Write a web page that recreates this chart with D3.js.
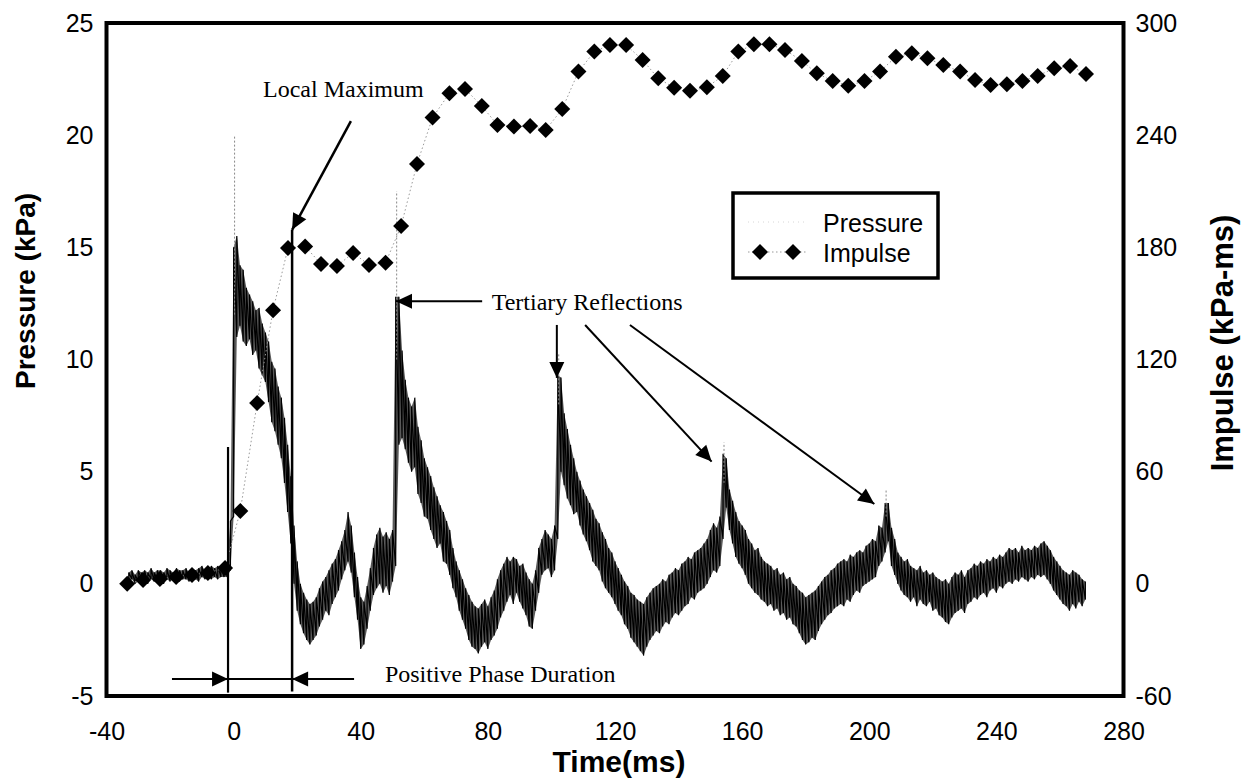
<!DOCTYPE html>
<html><head><meta charset="utf-8">
<script src="https://cdn.jsdelivr.net/npm/d3@7"></script>
<style>body{margin:0;background:#fff}</style>
</head><body>
<svg id="c" width="1244" height="783"></svg>
<script>
// ---------- data ----------
const xTicks=[-40,0,40,80,120,160,200,240,280];
const yTicksLeft=[-5,0,5,10,15,20,25];
const yTicksRight=[-60,0,60,120,180,240,300];

const impTime=[-33.5,-28.5,-23.2,-18.1,-13.1,-8.1,-2.7,2.1,7.4,12.4,17.1,22.5,27.5,32.5,37.6,42.6,47.8,52.7,57.7,62.6,67.9,72.8,78.1,83.0,88.2,93.3,98.2,103.4,108.5,113.5,118.4,123.5,128.7,133.6,138.6,143.6,148.9,153.9,158.8,163.7,168.6,173.5,178.8,183.5,188.5,193.4,198.5,203.4,208.4,213.4,218.3,223.3,228.6,233.3,238.2,243.3,248.2,253.0,258.2,263.2,268.2];
const impulse=[0,2.1,2.6,3.7,4.7,5.8,8.5,39.0,96.7,146.4,179.6,180.5,171.1,170.0,177.0,170.6,171.7,191.4,224.6,249.4,262.4,264.7,255.6,245.5,244.6,244.9,242.8,254.0,274.0,284.7,288.2,288.2,280.2,270.4,265.4,263.8,265.6,271.7,284.7,288.6,288.6,285.6,279.7,273.1,269.0,266.5,269.0,274.0,282.0,283.8,281.1,277.5,274.0,269.5,266.9,267.2,269.0,271.7,275.8,277.0,272.7];

const pTime=[-33,-32,-31,-30,-29,-28,-27,-26,-25,-24,-23,-22,-21,-20,-19,-18,-17,-16,-15,-14,-13,-12,-11,-10,-9,-8,-7,-6,-5,-4,-3,-2,-1,0,1,2,3,4,5,6,7,8,9,10,11,12,13,14,15,16,17,18,19,20,21,22,23,24,25,26,27,28,29,30,31,32,33,34,35,36,37,38,39,40,41,42,43,44,45,46,47,48,49,50,51,52,53,54,55,56,57,58,59,60,61,62,63,64,65,66,67,68,69,70,71,72,73,74,75,76,77,78,79,80,81,82,83,84,85,86,87,88,89,90,91,92,93,94,95,96,97,98,99,100,101,102,103,104,105,106,107,108,109,110,111,112,113,114,115,116,117,118,119,120,121,122,123,124,125,126,127,128,129,130,131,132,133,134,135,136,137,138,139,140,141,142,143,144,145,146,147,148,149,150,151,152,153,154,155,156,157,158,159,160,161,162,163,164,165,166,167,168,169,170,171,172,173,174,175,176,177,178,179,180,181,182,183,184,185,186,187,188,189,190,191,192,193,194,195,196,197,198,199,200,201,202,203,204,205,206,207,208,209,210,211,212,213,214,215,216,217,218,219,220,221,222,223,224,225,226,227,228,229,230,231,232,233,234,235,236,237,238,239,240,241,242,243,244,245,246,247,248,249,250,251,252,253,254,255,256,257,258,259,260,261,262,263,264,265,266,267,268];
const pLow=[
0.1,0.2,0.0,0.1,0.2,0.1,0.0,0.2,0.1,0.2,
0.1,0.0,0.2,0.1,0.2,0.3,0.1,0.2,0.2,0.1,
0.3,0.2,0.1,0.3,0.2,0.3,0.2,0.3,0.2,0.3,
0.3,0.3,0.6,3.0,11.0,11.5,10.8,10.6,10.9,10.2,
10.4,9.6,9.3,9.0,8.1,7.2,6.8,6.2,5.6,4.5,
3.2,1.8,0.0,-1.2,-1.8,-2.2,-2.5,-2.7,-2.5,-2.3,
-1.9,-1.6,-1.2,-1.4,-0.9,-0.6,-0.3,0.2,0.6,1.0,
0.5,-0.6,-1.6,-2.9,-2.7,-2.0,-1.2,-0.5,-0.2,0.0,
-0.4,-0.1,-0.5,0.1,0.8,6.2,6.5,6.0,5.4,5.0,
5.2,4.0,3.6,3.0,2.9,2.4,2.0,1.6,1.8,1.0,
0.9,0.4,-0.2,-0.6,-1.2,-1.6,-2.0,-2.5,-2.8,-2.9,
-3.1,-2.8,-2.6,-2.9,-2.5,-2.3,-2.0,-1.5,-1.2,-0.8,
-0.5,-0.9,-0.4,-0.8,-1.1,-1.4,-1.9,-2.0,-1.2,-0.4,
0.4,0.6,0.7,0.3,0.6,2.0,5.0,4.4,3.8,3.5,
3.1,3.2,2.6,2.2,1.9,1.5,1.0,0.8,0.6,0.1,
-0.2,-0.4,-0.6,-0.9,-1.2,-1.4,-1.8,-2.0,-2.4,-2.6,
-2.8,-3.0,-3.2,-2.8,-2.5,-2.3,-2.1,-2.2,-1.9,-1.7,
-1.8,-1.5,-1.3,-1.4,-1.2,-1.0,-0.9,-0.6,-0.7,-0.4,
-0.3,-0.2,0.0,0.3,0.6,0.5,0.8,2.0,3.4,2.4,
1.8,1.2,0.9,0.7,0.4,0.0,-0.2,-0.4,-0.5,-0.7,
-0.8,-1.0,-0.9,-1.2,-1.1,-1.4,-1.3,-1.6,-1.5,-1.8,
-1.9,-2.2,-2.5,-2.7,-2.6,-2.4,-2.5,-2.1,-1.8,-1.6,
-1.4,-1.3,-1.1,-1.0,-0.9,-1.0,-0.7,-0.8,-0.5,-0.3,
-0.4,-0.1,0.0,0.1,0.2,0.3,0.8,1.0,1.4,1.9,
0.8,0.4,0.0,-0.3,-0.5,-0.6,-0.8,-0.6,-1.0,-0.7,
-0.9,-1.0,-0.8,-1.2,-1.1,-1.4,-1.5,-1.7,-1.8,-1.5,
-1.3,-1.2,-1.1,-1.3,-0.9,-0.8,-0.6,-0.7,-0.5,-0.4,
-0.6,-0.3,-0.2,-0.4,-0.1,-0.2,0.0,0.1,0.0,0.2,
0.1,0.3,0.2,0.1,0.3,0.2,0.4,0.3,0.4,0.2,
0.0,-0.3,-0.5,-0.7,-0.9,-1.0,-1.2,-0.9,-1.1,-0.8,
-1.0,-0.7];
const pHigh=[
0.5,0.6,0.4,0.6,0.5,0.6,0.5,0.7,0.5,0.6,
0.6,0.5,0.7,0.6,0.5,0.7,0.6,0.6,0.7,0.5,
0.7,0.6,0.7,0.8,0.6,0.7,0.8,0.7,0.8,0.7,
0.8,0.9,2.8,15.0,15.5,14.2,14.0,13.2,12.9,12.6,
12.2,12.3,11.6,11.2,10.8,9.9,9.6,8.8,8.3,7.4,
6.2,4.8,2.6,1.0,0.0,-0.4,-0.7,-0.9,-0.8,-0.6,
-0.2,0.1,0.3,0.6,0.9,1.1,1.5,1.9,2.4,3.2,
2.6,1.4,0.3,-0.6,-0.8,-0.1,0.7,1.6,2.2,2.5,
2.1,2.3,2.0,2.4,12.8,12.8,10.4,9.1,8.3,7.9,
8.3,7.0,6.4,5.6,5.2,4.8,4.3,3.9,3.5,3.2,
2.8,2.4,1.6,1.0,0.6,0.2,-0.2,-0.5,-0.8,-1.0,
-1.1,-0.9,-0.7,-1.0,-0.6,-0.3,0.2,0.6,0.9,1.2,
1.0,1.2,1.1,0.8,0.9,0.5,0.2,0.0,0.6,1.6,
2.0,2.4,2.2,2.0,2.6,9.3,9.2,7.6,6.9,6.2,
5.6,5.0,4.6,4.2,3.9,3.6,3.3,2.9,2.7,2.3,
2.0,1.6,1.4,1.0,0.7,0.4,0.1,-0.1,-0.4,-0.5,
-0.7,-0.8,-0.9,-0.6,-0.4,-0.2,-0.1,0.0,0.2,0.1,
0.4,0.5,0.7,0.6,0.9,1.0,1.2,1.1,1.4,1.5,
1.6,1.8,2.0,2.4,2.7,2.5,3.0,5.8,5.6,4.2,
3.7,3.2,2.8,2.6,2.4,2.0,1.8,1.5,1.6,1.2,
1.0,0.9,0.8,0.6,0.7,0.4,0.5,0.2,0.3,0.0,
-0.1,-0.3,-0.4,-0.6,-0.5,-0.4,-0.3,-0.1,0.1,0.3,
0.4,0.6,0.7,0.9,1.0,1.1,1.0,1.3,1.2,1.4,
1.5,1.4,1.7,1.8,2.0,1.9,2.6,2.5,3.6,3.6,
2.5,2.0,1.4,1.2,1.0,1.1,0.8,0.7,0.6,0.8,
0.5,0.6,0.4,0.5,0.3,0.2,0.1,0.2,0.0,0.3,
0.5,0.4,0.6,0.3,0.6,0.7,0.9,0.8,1.0,0.9,
1.1,1.0,1.2,1.1,1.3,1.2,1.4,1.6,1.5,1.6,
1.4,1.7,1.5,1.6,1.5,1.7,1.6,1.8,1.9,1.7,
1.5,1.2,1.0,0.8,0.6,0.5,0.4,0.6,0.5,0.4,
0.2,0.1];
// faint single-sample spikes
const spikeTime=[0.3,51.3,102.3,154.3,205.3];
const spikeBase=[12.0,10.0,8.0,4.5,3.0];
const spikeTop=[20.0,17.5,10.3,6.3,4.2];

// ---------- layout ----------
const svg=d3.select('#c');
const X0=106.5,X1=1123.5,Y0=696,Y1=23;
const x=d3.scaleLinear().domain([-40,280]).range([X0,X1]);
const y=d3.scaleLinear().domain([-5,25]).range([Y0,Y1]);
const y2=d3.scaleLinear().domain([-60,300]).range([Y0,Y1]);
const sans='"Liberation Sans", Arial, Helvetica, sans-serif';
const serif='"Liberation Serif", "Times New Roman", serif';

// pressure trace: dense noisy band
const band=pTime.map((t,i)=>({t,lo:pLow[i],hi:pHigh[i]}));
svg.append('path').datum(band)
  .attr('d',d3.area().x(d=>x(d.t)).y0(d=>y(d.lo)).y1(d=>y(d.hi)))
  .attr('fill','#1a1a1a').attr('fill-opacity',0.72);
const pts=[];
pTime.forEach((t,i)=>{pts.push([t,pLow[i]]);pts.push([t,pHigh[i]]);});
svg.append('path').attr('d',d3.line().x(d=>x(d[0])).y(d=>y(d[1]))(pts))
  .attr('fill','none').attr('stroke','#000').attr('stroke-width',1.2).attr('stroke-linejoin','bevel');
svg.selectAll('.spk').data(spikeTime).join('line')
  .attr('x1',d=>x(d)).attr('x2',d=>x(d))
  .attr('y1',(d,i)=>y(spikeBase[i])).attr('y2',(d,i)=>y(spikeTop[i]))
  .attr('stroke','#888').attr('stroke-width',1).attr('stroke-dasharray','2,2');

// impulse
svg.append('path').attr('d',d3.line().x((d,i)=>x(impTime[i])).y(d=>y2(d))(impulse))
  .attr('fill','none').attr('stroke','#999').attr('stroke-width',1).attr('stroke-dasharray','1.5,2.5');
const dia='M0,-8L8,0L0,8L-8,0Z';
svg.selectAll('.dm').data(impulse).join('path')
  .attr('d',dia).attr('transform',(d,i)=>`translate(${x(impTime[i])},${y2(d)})`).attr('fill','#000');

// annotation helpers
function arrow(xa,ya,xb,yb,w){
  svg.append('line').attr('x1',xa).attr('y1',ya).attr('x2',xb).attr('y2',yb)
    .attr('stroke','#000').attr('stroke-width',w||2);
  const a=Math.atan2(yb-ya,xb-xa),L=16,H=7.5;
  const bx=xb-L*Math.cos(a),by=yb-L*Math.sin(a);
  const px=-Math.sin(a)*H,py=Math.cos(a)*H;
  svg.append('path').attr('d',`M${xb},${yb}L${bx+px},${by+py}L${bx-px},${by-py}Z`).attr('fill','#000');
}
function head(xb,yb,dir){
  const L=16,H=7.5;
  svg.append('path').attr('d',`M${xb},${yb}L${xb-dir*L},${yb-H}L${xb-dir*L},${yb+H}Z`).attr('fill','#000');
}

// Local maximum
arrow(x(36.9),y(20.63),x(18.4),y(15.78),2.5);
svg.append('text').attr('x',x(9.25)).attr('y',y(21.7)).attr('font-family',serif).attr('font-size',24).text('Local Maximum');
// vertical phase lines
svg.append('line').attr('x1',x(18.4)).attr('x2',x(18.4)).attr('y1',y(15.78)).attr('y2',y(-4.8)).attr('stroke','#000').attr('stroke-width',2.5);
svg.append('line').attr('x1',x(-1.76)).attr('x2',x(-1.76)).attr('y1',y(6.1)).attr('y2',y(-4.85)).attr('stroke','#000').attr('stroke-width',2.2);
// positive phase duration
svg.append('line').attr('x1',x(-19.4)).attr('x2',x(37.9)).attr('y1',y(-4.24)).attr('y2',y(-4.24)).attr('stroke','#000').attr('stroke-width',2);
head(x(-1.76),y(-4.24),1);
head(x(18.4),y(-4.24),-1);
svg.append('text').attr('x',x(47.6)).attr('y',y(-4.37)).attr('font-family',serif).attr('font-size',24).text('Positive Phase Duration');
// tertiary reflections
arrow(x(78.2),y(12.6),x(51.1),y(12.6),2);
svg.append('text').attr('x',x(81.2)).attr('y',y(12.21)).attr('font-family',serif).attr('font-size',24).text('Tertiary Reflections');
arrow(x(101.7),y(11.54),x(101.7),y(9.18),2);
arrow(x(110.6),y(11.54),x(150.4),y(5.45),2);
arrow(x(124.7),y(11.54),x(201.6),y(3.56),2);

// frame
svg.append('rect').attr('x',X0).attr('y',Y1).attr('width',X1-X0).attr('height',Y0-Y1)
  .attr('fill','none').attr('stroke','#000').attr('stroke-width',4);

// axes
const fmt=d=>String(d);
const gx=svg.append('g').attr('transform',`translate(0,${Y0})`)
  .call(d3.axisBottom(x).tickValues(xTicks).tickFormat(fmt).tickSize(0).tickPadding(26));
const gl=svg.append('g').attr('transform',`translate(${X0},0)`)
  .call(d3.axisLeft(y).tickValues(yTicksLeft).tickFormat(fmt).tickSize(0).tickPadding(13));
const gr=svg.append('g').attr('transform',`translate(${X1},0)`)
  .call(d3.axisRight(y2).tickValues(yTicksRight).tickFormat(fmt).tickSize(0).tickPadding(12));
[gx,gl,gr].forEach(g=>{g.select('.domain').remove();
  g.selectAll('text').attr('font-family',sans).attr('font-size',25).attr('fill','#000');});

// axis titles
svg.append('text').attr('x',619).attr('y',772).attr('text-anchor','middle')
  .attr('font-family',sans).attr('font-weight','bold').attr('font-size',30).text('Time(ms)');
svg.append('text').attr('transform','translate(35,291) rotate(-90)').attr('text-anchor','middle')
  .attr('font-family',sans).attr('font-weight','bold').attr('font-size',28).text('Pressure (kPa)');
svg.append('text').attr('transform','translate(1233,343) rotate(-90)').attr('text-anchor','middle')
  .attr('font-family',sans).attr('font-weight','bold').attr('font-size',31).text('Impulse (kPa-ms)');

// legend
const lg=svg.append('g');
lg.append('rect').attr('x',733).attr('y',193).attr('width',205).attr('height',85)
  .attr('fill','#fff').attr('stroke','#000').attr('stroke-width',3.5);
lg.append('line').attr('x1',748).attr('x2',808).attr('y1',222).attr('y2',222)
  .attr('stroke','#ccc').attr('stroke-width',0.8).attr('stroke-dasharray','1,4');
lg.append('line').attr('x1',748).attr('x2',808).attr('y1',252).attr('y2',252)
  .attr('stroke','#999').attr('stroke-width',1).attr('stroke-dasharray','1.5,2.5');
[760,793].forEach(cx=>lg.append('path').attr('d',dia).attr('transform',`translate(${cx},252)`).attr('fill','#000'));
lg.append('text').attr('x',823).attr('y',232).attr('font-family',sans).attr('font-size',25).text('Pressure');
lg.append('text').attr('x',823).attr('y',262).attr('font-family',sans).attr('font-size',25).text('Impulse');
</script>
</body></html>
